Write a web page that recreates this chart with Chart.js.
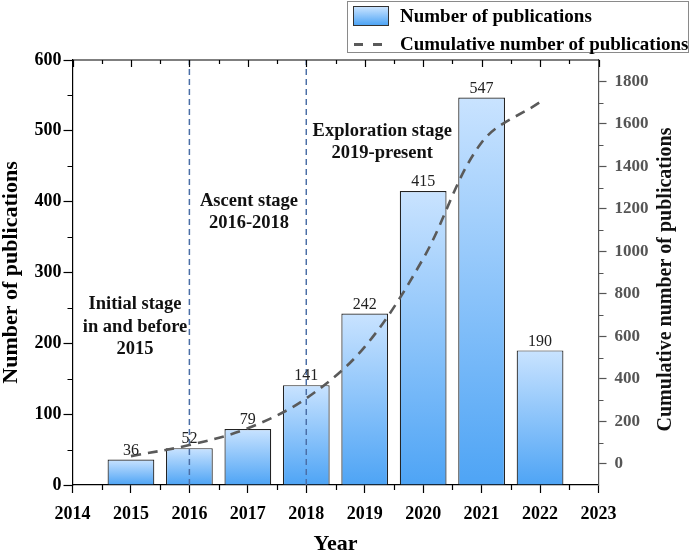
<!DOCTYPE html>
<html>
<head>
<meta charset="utf-8">
<script src="https://cdn.jsdelivr.net/npm/chart.js@4.4.1/dist/chart.umd.min.js"></script>
<style>
  body { margin: 0; background: #fff; }
  #wrap { position: relative; width: 694px; height: 553px; font-family: "Liberation Serif", "Times New Roman", serif; }
  #legend { position: absolute; left: 347px; top: 1px; width: 340px; height: 50px; border: 1px solid #8a8a8a; background: #fff; }
  .row { position: absolute; left: 0; height: 24px; font-weight: bold; font-size: 19px; color: #000; line-height: 24px; }
  .row span.txt { position: absolute; left: 52px; white-space: nowrap; }
  .swatch { position: absolute; left: 5px; top: 2px; width: 36px; height: 20px; box-sizing: border-box; border: 1px solid #333;
            background: linear-gradient(#c9e3ff, #4ea4f5); }
  .dash { position: absolute; top: 11px; width: 9px; height: 3px; background: #5a5a5a; }
</style>
</head>
<body>
<div id="wrap">
  <canvas id="chart" width="694" height="553"></canvas>
  <div id="legend">
    <div class="row" style="top:2px"><div class="swatch"></div><span class="txt">Number of publications</span></div>
    <div class="row" style="top:30px"><div class="dash" style="left:6px"></div><div class="dash" style="left:25px"></div><span class="txt">Cumulative number of publications</span></div>
  </div>
</div>
<script>
// Values.
const years = [2015, 2016, 2017, 2018, 2019, 2020, 2021, 2022];
const pubCounts = [36, 52, 79, 141, 242, 415, 547, 190];
const cumulativeCounts = [36, 88, 167, 308, 550, 965, 1512, 1702];
const stageBoundaries = [2016, 2018]; // dashed dividers between stages
const rightTicks = [0, 200, 400, 600, 800, 1000, 1200, 1400, 1600, 1800];

// Stage captions, anchored in data units (x = year, y = publications).
const stageNotes = [
  { x: 2015.07, y: 255, lines: ["Initial stage", "in and before", "2015"] },
  { x: 2017.02, y: 401, lines: ["Ascent stage", "2016-2018"] },
  { x: 2019.30, y: 500, lines: ["Exploration stage", "2019-present"] },
];

const SERIF = "'Liberation Serif', 'Times New Roman', serif";

// One light-to-dark gradient per bar, spanning that bar's own height.
function barGradient(ctx) {
  if (ctx.type !== "data") return "#8cc4fb";
  const chart = ctx.chart;
  const ys = chart.scales.y;
  if (!ys) return "#8cc4fb";
  const top = ys.getPixelForValue(pubCounts[ctx.dataIndex]);
  const bottom = ys.getPixelForValue(0);
  if (!isFinite(top) || !isFinite(bottom) || top === bottom) return "#8cc4fb";
  const g = chart.ctx.createLinearGradient(0, top, 0, bottom);
  g.addColorStop(0, "#c9e3ff");
  g.addColorStop(1, "#4ea4f5");
  return g;
}

// Extras the library can't draw: minor ticks, the inward-ticked top frame,
// value labels over the bars, stage captions and the right axis title.
const extras = {
  id: "extras",
  afterDatasetsDraw(chart) {
    const { ctx, chartArea: a, scales } = chart;
    const x = scales.x, y = scales.y, y2 = scales.y2;
    ctx.save();

    // top frame with inward ticks
    ctx.strokeStyle = "#000";
    ctx.lineWidth = 1.2;
    ctx.beginPath();
    ctx.moveTo(a.left, a.top);
    ctx.lineTo(a.right, a.top);
    for (let v = 2014; v <= 2023; v += 0.5) {
      const px = Math.round(x.getPixelForValue(v)) + 0.5;
      const len = Number.isInteger(v) ? 7 : 4;
      ctx.moveTo(px, a.top);
      ctx.lineTo(px, a.top + len);
      if (!Number.isInteger(v)) { // minor ticks on the bottom axis
        ctx.moveTo(px, a.bottom);
        ctx.lineTo(px, a.bottom + 5);
      }
    }
    for (let v = 50; v < 600; v += 100) {
      const py = Math.round(y.getPixelForValue(v)) + 0.5;
      ctx.moveTo(a.left, py);
      ctx.lineTo(a.left - 5, py);
    }
    ctx.stroke();

    ctx.strokeStyle = "#555";
    ctx.beginPath();
    for (let v = 100; v < 1900; v += 200) {
      const py = Math.round(y2.getPixelForValue(v)) + 0.5;
      ctx.moveTo(a.right, py);
      ctx.lineTo(a.right + 5, py);
    }
    ctx.stroke();

    // value labels above bars
    const bars = chart.getDatasetMeta(0).data;
    ctx.fillStyle = "#222";
    ctx.font = "16px " + SERIF;
    ctx.textAlign = "center";
    ctx.textBaseline = "middle";
    bars.forEach((bar, i) => ctx.fillText(String(pubCounts[i]), bar.x, bar.y - 9));

    // stage captions
    ctx.font = "bold 18.5px " + SERIF;
    ctx.fillStyle = "#111";
    for (const note of stageNotes) {
      const px = x.getPixelForValue(note.x);
      const py = y.getPixelForValue(note.y);
      note.lines.forEach((t, i) => ctx.fillText(t, px, py + i * 22.5));
    }

    // right axis title, reading bottom-to-top
    ctx.translate(666, (a.top + a.bottom) / 2 + 7);
    ctx.rotate(-Math.PI / 2);
    ctx.font = "bold 20px " + SERIF;
    ctx.fillStyle = "#111";
    ctx.fillText("Cumulative number of publications", 0, 0);
    ctx.restore();
  },
};

const plain = (v) => String(v);

new Chart(document.getElementById("chart"), {
  type: "bar",
  data: {
    datasets: [
      {
        type: "bar",
        label: "Number of publications",
        data: years.map((yr, i) => ({ x: yr, y: pubCounts[i] })),
        backgroundColor: barGradient,
        borderColor: "#222",
        borderWidth: 1.2,
        borderSkipped: "bottom",
        barPercentage: 0.8,
        categoryPercentage: 1,
        yAxisID: "y",
        order: 3,
      },
      ...stageBoundaries.map((b) => ({
        type: "line",
        label: "boundary " + b,
        data: [{ x: b, y: 0 }, { x: b, y: 600 }],
        borderColor: "#4a6ea6",
        borderWidth: 1.5,
        borderDash: [6, 4],
        pointRadius: 0,
        yAxisID: "y",
        order: 2,
      })),
      {
        type: "line",
        label: "Cumulative number of publications",
        data: years.map((yr, i) => ({ x: yr, y: cumulativeCounts[i] })),
        borderColor: "#5a5a5a",
        borderWidth: 2.6,
        borderDash: [10, 7],
        pointRadius: 0,
        tension: 0.35,
        fill: false,
        yAxisID: "y2",
        order: 1,
      },
    ],
  },
  options: {
    responsive: false,
    animation: false,
    layout: { padding: { top: 60, left: 0, right: 0, bottom: 0 } },
    plugins: { legend: { display: false }, tooltip: { enabled: false } },
    scales: {
      x: {
        type: "linear",
        min: 2014,
        max: 2023,
        offset: false,
        afterFit: (s) => { s.height = 68; },
        ticks: { stepSize: 1, callback: plain, color: "#000", padding: 11, maxRotation: 0,
                 font: { family: SERIF, size: 18, weight: "bold" } },
        grid: { offset: false, drawOnChartArea: false, tickLength: 8, tickColor: "#000", tickWidth: 1.2 },
        border: { display: true, color: "#000", width: 1.2 },
        title: { display: true, text: "Year", color: "#000", padding: 0,
                 font: { family: SERIF, size: 22, weight: "bold", lineHeight: 0.8 } },
      },
      y: {
        position: "left",
        min: 0,
        max: 600,
        afterFit: (s) => { s.width = 72.5; },
        ticks: { stepSize: 100, callback: plain, color: "#000", padding: 2,
                 font: { family: SERIF, size: 18, weight: "bold" } },
        grid: { drawOnChartArea: false, tickLength: 9, tickColor: "#000", tickWidth: 1.2 },
        border: { display: true, color: "#000", width: 1.2 },
        title: { display: true, text: "Number of publications", color: "#000", padding: 0,
                 font: { family: SERIF, size: 22, weight: "bold", lineHeight: 1 } },
      },
      y2: {
        position: "right",
        min: -100,
        max: 1900,
        afterFit: (s) => { s.width = 95.5; },
        afterBuildTicks: (s) => { s.ticks = rightTicks.map((v) => ({ value: v })); },
        ticks: { callback: plain, color: "#555", padding: 8,
                 font: { family: SERIF, size: 17, weight: "bold" } },
        grid: { drawOnChartArea: false, tickLength: 8, tickColor: "#555", tickWidth: 1.2 },
        border: { display: true, color: "#555", width: 1.2 },
      },
    },
  },
  plugins: [extras],
});
</script>
</body>
</html>
